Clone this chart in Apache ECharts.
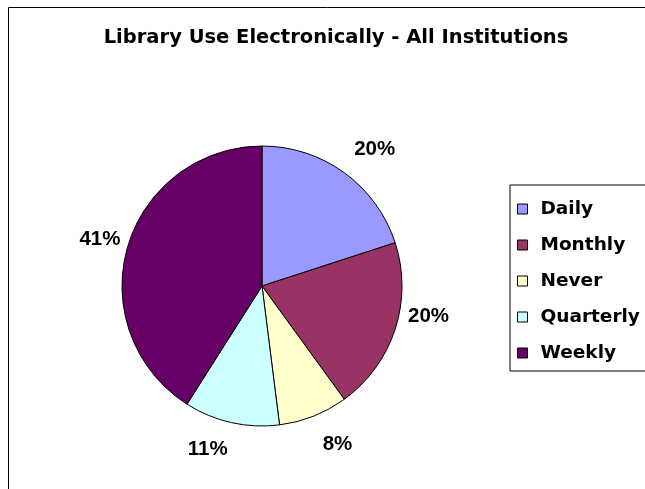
<!DOCTYPE html>
<html>
<head>
<meta charset="utf-8">
<script src="https://cdn.jsdelivr.net/npm/echarts@6/dist/echarts.min.js"></script>
<style>
html,body{margin:0;padding:0;background:#fff;}
#chart{width:645px;height:489px;}
</style>
</head>
<body>
<div id="chart"></div>
<script>
const titleText = 'Library Use Electronically - All Institutions';
const categories = ['Daily', 'Monthly', 'Never', 'Quarterly', 'Weekly'];
const values = [20, 20, 8, 11, 41];
const colors = ['#9999FF', '#993366', '#FFFFCC', '#CCFFFF', '#660066'];
// small style nudges of the library-placed percentage labels (pixels)
const labelNudgeX = [-8, -13, -4, 6, 19];
const labelNudgeY = [-6, -20, 8, 5, -1];

const chart = echarts.init(document.getElementById('chart'), null, {renderer: 'canvas'});
const wideFont = '"DejaVu Sans", sans-serif';
const labelFont = '"Liberation Sans", Arial, sans-serif';
chart.setOption({
  backgroundColor: '#ffffff',
  animation: false,
  color: colors,
  title: {
    text: titleText,
    left: 331,
    textAlign: 'center',
    top: 23,
    textStyle: {fontFamily: wideFont, fontWeight: 'bold', fontSize: 19.5, color: '#000'}
  },
  graphic: [{
    type: 'rect',
    shape: {x: 8.5, y: 7.5, width: 700, height: 600},
    style: {fill: 'none', stroke: '#000', lineWidth: 1},
    silent: true, z: -1
  }],
  legend: {
    orient: 'vertical',
    left: 510,
    top: 185,
    padding: [6, 30, 0, 7],
    itemGap: 0,
    itemWidth: 10,
    itemHeight: 10,
    icon: 'rect',
    borderColor: '#000',
    borderWidth: 1,
    backgroundColor: '#fff',
    itemStyle: {borderColor: '#000', borderWidth: 1},
    textStyle: {fontFamily: wideFont, fontWeight: 'bold', fontSize: 18.5, color: '#000', lineHeight: 36, padding: [0, 0, 0, 8]},
    data: categories
  },
  series: [{
    type: 'pie',
    center: [262, 286],
    radius: 140,
    startAngle: 90,
    clockwise: true,
    avoidLabelOverlap: false,
    itemStyle: {borderColor: '#000', borderWidth: 1},
    label: {
      show: true,
      position: 'outside',
      formatter: '{d}%',
      fontFamily: labelFont,
      fontWeight: 'bold',
      fontSize: 20.5,
      color: '#000'
    },
    labelLine: {show: false, length: 22, length2: 0},
    labelLayout: function (p) {
      return {dx: labelNudgeX[p.dataIndex], dy: labelNudgeY[p.dataIndex]};
    },
    emphasis: {disabled: true},
    data: categories.map((c, i) => ({name: c, value: values[i]}))
  }]
});
</script>
</body>
</html>
